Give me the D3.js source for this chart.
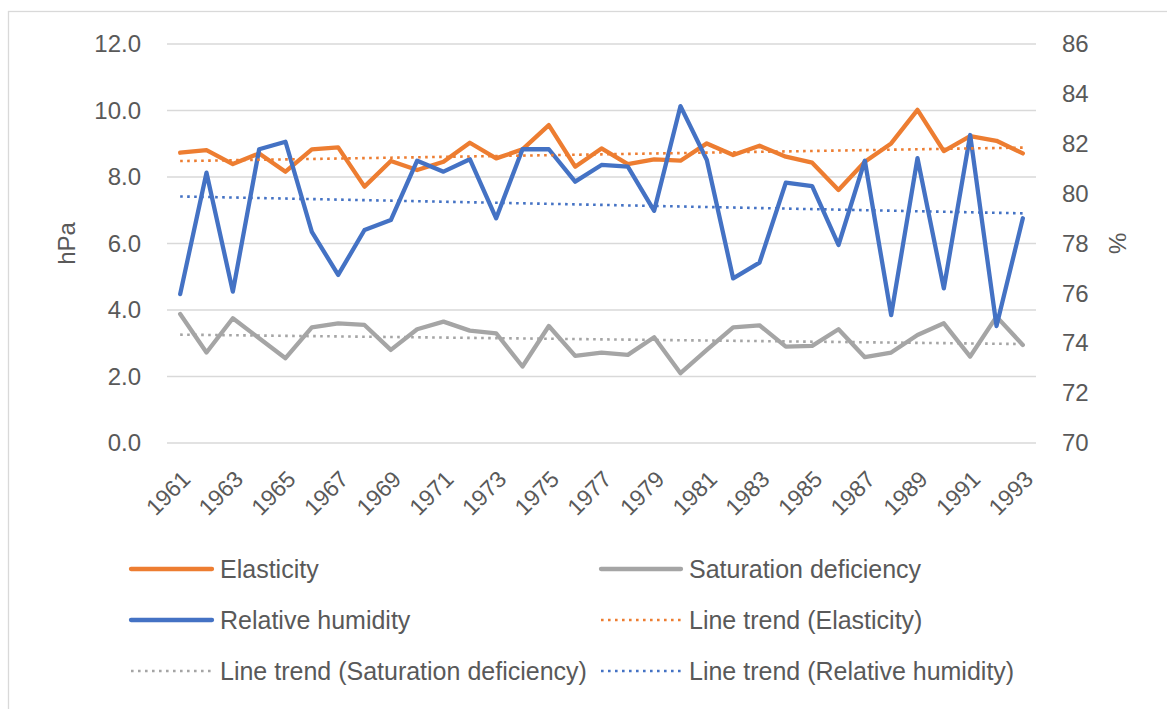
<!DOCTYPE html>
<html lang="en">
<head>
  <meta charset="UTF-8">
  <title>Elasticity, saturation deficiency and relative humidity</title>
  <script src="https://cdn.jsdelivr.net/npm/d3@7"></script>
  <style>
    body{
      margin:0; padding:0;
      background-color:#fff;
    }
    svg text{
      font-family:"Liberation Sans", Arial, sans-serif;
      fill:#595959;
    }
    .grid line{
      stroke:#d9d9d9;
      stroke-width:1.3;
    }
    .series{
      fill:none;
      stroke-width:4.3;
      stroke-linejoin:round;
      stroke-linecap:round;
    }
    .trend{
      fill:none;
      stroke-width:2.6;
      stroke-dasharray:2.6 4.4;
    }
  </style>
</head>
<body>
<div id="chart"></div>

<script>
// data
let years = d3.range(1961, 1994);

let elasticity = [8.73, 8.81, 8.39, 8.71, 8.16, 8.83, 8.89, 7.71, 8.48, 8.21, 8.46,
                  9.03, 8.56, 8.83, 9.56, 8.31, 8.86, 8.39, 8.53, 8.49, 9.01, 8.66,
                  8.94, 8.61, 8.43, 7.61, 8.46, 9.01, 10.02, 8.78, 9.23, 9.09, 8.71];

let saturation = [3.88, 2.72, 3.75, 3.15, 2.55, 3.48, 3.60, 3.55, 2.80, 3.42, 3.65,
                  3.38, 3.30, 2.30, 3.52, 2.62, 2.72, 2.65, 3.18, 2.10, 2.80, 3.48,
                  3.54, 2.90, 2.92, 3.42, 2.58, 2.72, 3.25, 3.60, 2.60, 3.80, 2.95];

let humidity = [75.97, 80.84, 76.07, 81.78, 82.08, 78.47, 76.74, 78.54, 78.94, 81.32, 80.88,
                81.38, 79.01, 81.78, 81.78, 80.48, 81.15, 81.08, 79.31, 83.51, 81.35, 76.60,
                77.23, 80.44, 80.30, 77.94, 81.32, 75.13, 81.42, 76.20, 82.35, 74.69, 79.01];

let leftTicks = [0, 2, 4, 6, 8, 10, 12];
let rightTicks = [70, 72, 74, 76, 78, 80, 82, 84, 86];

let legendItems = [
  {name:"Elasticity", color:"#ed7d31", dotted:false},
  {name:"Saturation deficiency", color:"#a5a5a5", dotted:false},
  {name:"Relative humidity", color:"#4472c4", dotted:false},
  {name:"Line trend (Elasticity)", color:"#ed7d31", dotted:true},
  {name:"Line trend (Saturation deficiency)", color:"#a5a5a5", dotted:true},
  {name:"Line trend (Relative humidity)", color:"#4472c4", dotted:true}
];

let W = 1167, H = 709;
let plot = {left:167, right:1036, top:44, bottom:443};

let svg = d3.select("#chart").append("svg")
    .attr("width", W)
    .attr("height", H);

// chart border
svg.append("rect")
    .attr("x", 8.5).attr("y", 11.5)
    .attr("width", W + 20).attr("height", H + 20)
    .attr("fill", "none")
    .attr("stroke", "#d9d9d9")
    .attr("stroke-width", 1.3);

let x = d3.scalePoint().domain(years).range([plot.left, plot.right]).padding(0.5);
let y1 = d3.scaleLinear().domain([0, 12]).range([plot.bottom, plot.top]);
let y2 = d3.scaleLinear().domain([70, 86]).range([plot.bottom, plot.top]);

// gridlines
svg.append("g").attr("class", "grid")
  .selectAll("line").data(leftTicks).enter().append("line")
    .attr("x1", plot.left).attr("x2", plot.right)
    .attr("y1", d => y1(d)).attr("y2", d => y1(d));

// left axis
let leftAxis = svg.append("g")
    .attr("transform", "translate(" + (plot.left - 26) + ",0)")
    .call(d3.axisLeft(y1).tickValues(leftTicks).tickSize(0).tickFormat(d3.format(".1f")));
leftAxis.select(".domain").remove();
leftAxis.selectAll("text").attr("x", 0).style("font-size", "24px").attr("fill", null);

// right axis
let rightAxis = svg.append("g")
    .attr("transform", "translate(" + (plot.right + 26) + ",0)")
    .call(d3.axisRight(y2).tickValues(rightTicks).tickSize(0).tickFormat(d3.format("d")));
rightAxis.select(".domain").remove();
rightAxis.selectAll("text").attr("x", 0).style("font-size", "24px").attr("fill", null);

// x axis labels (every other year)
svg.append("g").selectAll("text")
  .data(years.filter((d, i) => i % 2 == 0)).enter().append("text")
    .attr("transform", d => "translate(" + (x(d) + 6) + "," + (plot.bottom + 32) + ") rotate(-45)")
    .attr("text-anchor", "end")
    .attr("dominant-baseline", "central")
    .style("font-size", "23px")
    .text(d => d);

// axis titles
svg.append("text")
    .attr("transform", "translate(66," + ((plot.top + plot.bottom) / 2) + ") rotate(-90)")
    .attr("text-anchor", "middle")
    .attr("dominant-baseline", "central")
    .style("font-size", "24px")
    .text("hPa");

svg.append("text")
    .attr("transform", "translate(1117," + ((plot.top + plot.bottom) / 2) + ") rotate(90)")
    .attr("text-anchor", "middle")
    .attr("dominant-baseline", "central")
    .style("font-size", "24px")
    .text("%");

// linear trend, same as the spreadsheet trendline
function trend(values){
  let n = values.length;
  let mx = (n - 1) / 2, my = d3.mean(values);
  let sxy = 0, sxx = 0;
  values.forEach(function(v, i){ sxy += (i - mx) * (v - my); sxx += (i - mx) * (i - mx); });
  let b = sxy / sxx, a = my - b * mx;
  return values.map(function(v, i){ return a + b * i; });
}

let lineL = d3.line().x((d, i) => x(years[i])).y(d => y1(d));
let lineR = d3.line().x((d, i) => x(years[i])).y(d => y2(d));

svg.append("path").attr("class", "series").attr("stroke", "#ed7d31").attr("d", lineL(elasticity));
svg.append("path").attr("class", "series").attr("stroke", "#a5a5a5").attr("d", lineL(saturation));
svg.append("path").attr("class", "series").attr("stroke", "#4472c4").attr("d", lineR(humidity));

svg.append("path").attr("class", "trend").attr("stroke", "#ed7d31").attr("d", lineL(trend(elasticity)));
svg.append("path").attr("class", "trend").attr("stroke", "#a5a5a5").attr("d", lineL(trend(saturation)));
svg.append("path").attr("class", "trend").attr("stroke", "#4472c4").attr("d", lineR(trend(humidity)));

// legend, two columns
let colSym = [[131, 212], [601, 681]];
let colText = [220, 689];
let rowY = [569, 620, 671];

let leg = svg.append("g").selectAll("g")
  .data(legendItems).enter().append("g");

leg.append("line")
    .attr("x1", (d, i) => colSym[i % 2][0])
    .attr("x2", (d, i) => colSym[i % 2][1])
    .attr("y1", (d, i) => rowY[Math.floor(i / 2)])
    .attr("y2", (d, i) => rowY[Math.floor(i / 2)])
    .attr("stroke", d => d.color)
    .attr("stroke-width", d => d.dotted ? 2.6 : 4.3)
    .attr("stroke-dasharray", d => d.dotted ? "2.6 4.4" : null)
    .attr("stroke-linecap", d => d.dotted ? "butt" : "round");

leg.append("text")
    .attr("x", (d, i) => colText[i % 2])
    .attr("y", (d, i) => rowY[Math.floor(i / 2)])
    .attr("dominant-baseline", "central")
    .style("font-size", "25px")
    .text(d => d.name);
</script>
</body>
</html>
